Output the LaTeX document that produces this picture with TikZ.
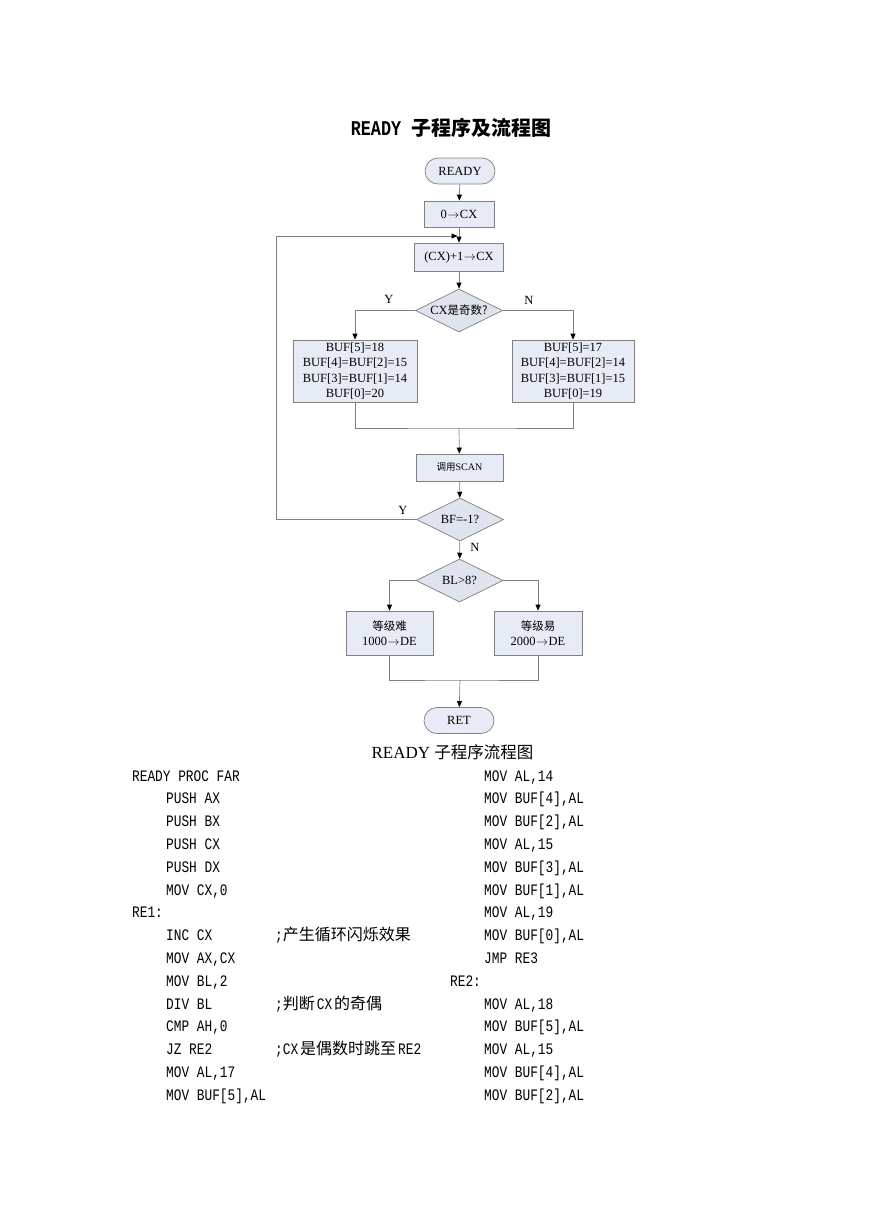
\documentclass[tikz,border=0pt]{standalone}
\usepackage{fontspec}
\setmainfont{Liberation Serif}
\newfontfamily\cjk{Noto Sans CJK SC}
\newfontfamily\codefont[FakeStretch=0.8]{Liberation Mono}
\usetikzlibrary{shapes.geometric,arrows.meta}
\definecolor{boxfill}{HTML}{E6EBF5}
\definecolor{dfill}{HTML}{DEE3EE}
\definecolor{edge}{HTML}{808080}
\newcommand\codeline[4]{\node[code] (#1) at (#2,781+22.8*#3) {#4};}
\newcommand\toarr{\kern0.5pt$\rightarrow$\kern0.5pt}
\begin{document}
\begin{tikzpicture}[x=1pt,y=-1pt,
  base/.style={draw=edge,line width=0.7pt,inner sep=0pt,align=center,
    font=\fontsize{12.5}{15.3}\selectfont},
  proc/.style={base,fill=boxfill,minimum width=#1,minimum height=27pt},
  proc/.default=88pt,
  term/.style={base,fill=boxfill,minimum width=70pt,minimum height=26pt,rounded corners=13pt},
  dec/.style={base,fill=dfill,diamond,aspect=2,minimum width=87pt,minimum height=43pt},
  line/.style={draw=edge,line width=0.7pt},
  arr/.style={line,-{Triangle[length=6pt,width=5pt,black]}},
  lab/.style={font=\fontsize{12.5}{15}\selectfont,inner sep=0pt},
  code/.style={anchor=base west,inner sep=0pt,font=\codefont\fontsize{16}{18}\selectfont}
]
\useasboundingbox[fill=white] (0,0) rectangle (869,1228);

% title
\node[inner sep=0pt] (title) at (451,128) {{\codefont\bfseries\fontsize{21}{22}\selectfont READY }{\cjk\bfseries\fontsize{20}{22}\selectfont 子程序及流程图}};

% flowchart
\node[term] (ready) at (460,171) {READY};
\node[proc=70pt,minimum height=26pt] (zero) at (459,214) {0\toarr CX};
\node[proc=89pt,minimum height=28pt] (inc) at (459,257) {(CX)+1\toarr CX};
\node[dec] (d1) at (459,310.5) {CX{\cjk\fontsize{11.5}{13}\selectfont 是奇数?}};
\node[proc=124pt,minimum height=62pt] (left) at (355,371) {BUF[5]=18\\BUF[4]=BUF[2]=15\\BUF[3]=BUF[1]=14\\BUF[0]=20};
\node[proc=122pt,minimum height=62pt] (right) at (573,371) {BUF[5]=17\\BUF[4]=BUF[2]=14\\BUF[3]=BUF[1]=15\\BUF[0]=19};
\node[proc=87pt] (scan) at (459.5,467.5) {{\cjk\fontsize{9.5}{11}\selectfont 调用}{\fontsize{10}{11}\selectfont SCAN}};
\node[dec] (bf) at (460,519.5) {BF=-1?};
\node[dec] (bl) at (459.5,580.5) {BL\textgreater8?};
\node[proc=87pt,minimum height=44pt] (hard) at (389.5,633) {{\cjk\fontsize{11.5}{13}\selectfont 等级难}\\1000\toarr DE};
\node[proc=88pt,minimum height=44pt] (easy) at (538,633) {{\cjk\fontsize{11.5}{13}\selectfont 等级易}\\2000\toarr DE};
\node[term] (ret) at (459,720.5) {RET};

\coordinate (jn) at (460,236);
\coordinate (m1) at (459,428);
\coordinate (m2) at (460,680);

\draw[arr] (ready) -- (zero);
\draw[arr] (zero) -- (inc);
\draw[arr] (inc) -- (d1);
\draw[arr] (d1.west) -| (left.north);
\draw[arr] (d1.east) -| (right.north);
\draw[line] (left.south) |- (m1) -| (right.south);
\draw[arr] (m1) -- (scan);
\draw[arr] (scan) -- (bf);
\draw[arr,shorten >=2.5pt] (bf.west) -- ++(-140,0) |- (jn);
\draw[arr] (bf) -- (bl);
\draw[arr] (bl.west) -| (hard.north);
\draw[arr] (bl.east) -| (easy.north);
\draw[line] (hard.south) |- (m2) -| (easy.south);
\draw[arr] (m2) -- (ret);

\node[lab] (y1) at (389,299.5) {Y};
\node[lab] (n1) at (529,300) {N};
\node[lab] (y2) at (403,510) {Y};
\node[lab] (n2) at (475,547) {N};

% caption
\node[inner sep=0pt] (cap) at (452.5,752) {{\fontsize{17}{19}\selectfont READY }{\cjk\fontsize{16.5}{19}\selectfont 子程序流程图}};

% code, left column
\codeline{a0}{132}{0}{READY PROC FAR}
\codeline{a1}{166}{1}{PUSH AX}
\codeline{a2}{166}{2}{PUSH BX}
\codeline{a3}{166}{3}{PUSH CX}
\codeline{a4}{166}{4}{PUSH DX}
\codeline{a5}{166}{5}{MOV CX,0}
\codeline{a6}{132}{6}{RE1:}
\codeline{a7}{166}{7}{INC CX}
\codeline{a8}{166}{8}{MOV AX,CX}
\codeline{a9}{166}{9}{MOV BL,2}
\codeline{a10}{166}{10}{DIV BL}
\codeline{a11}{166}{11}{CMP AH,0}
\codeline{a12}{166}{12}{JZ RE2}
\codeline{a13}{166}{13}{MOV AL,17}
\codeline{a14}{166}{14}{MOV BUF[5],AL}
% comments
\codeline{c7}{275}{7}{;{\cjk\fontsize{16}{18}\selectfont 产生循环闪烁效果}}
\codeline{c10}{275}{10}{;{\cjk\fontsize{16}{18}\selectfont 判断}\kern2pt CX\kern2pt{\cjk\fontsize{16}{18}\selectfont 的奇偶}}
\codeline{c12}{275}{12}{;CX\kern2pt{\cjk\fontsize{16}{18}\selectfont 是偶数时跳至}\kern2pt RE2}
% code, right column
\codeline{b0}{484}{0}{MOV AL,14}
\codeline{b1}{484}{1}{MOV BUF[4],AL}
\codeline{b2}{484}{2}{MOV BUF[2],AL}
\codeline{b3}{484}{3}{MOV AL,15}
\codeline{b4}{484}{4}{MOV BUF[3],AL}
\codeline{b5}{484}{5}{MOV BUF[1],AL}
\codeline{b6}{484}{6}{MOV AL,19}
\codeline{b7}{484}{7}{MOV BUF[0],AL}
\codeline{b8}{484}{8}{JMP RE3}
\codeline{b9}{450}{9}{RE2:}
\codeline{b10}{484}{10}{MOV AL,18}
\codeline{b11}{484}{11}{MOV BUF[5],AL}
\codeline{b12}{484}{12}{MOV AL,15}
\codeline{b13}{484}{13}{MOV BUF[4],AL}
\codeline{b14}{484}{14}{MOV BUF[2],AL}
\end{tikzpicture}
\end{document}
